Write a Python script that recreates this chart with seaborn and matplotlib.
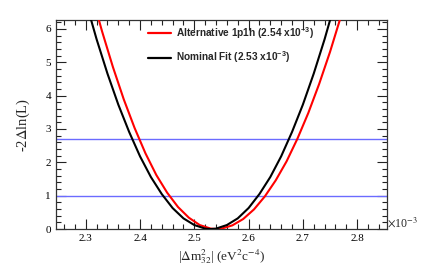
import numpy as np
import pandas as pd
import matplotlib
matplotlib.use("Agg")
import matplotlib.pyplot as plt
from matplotlib.ticker import MultipleLocator
import seaborn as sns

# delta m^2_32 (x 1e-3 eV^2) and -2 delta ln L
nominal_x = [2.30, 2.32, 2.34, 2.36, 2.38, 2.40, 2.42, 2.44, 2.46, 2.48, 2.50, 2.52, 2.53,
             2.54, 2.56, 2.58, 2.60, 2.62, 2.64, 2.66, 2.68, 2.70, 2.72, 2.74, 2.76]
nominal_y = [6.83, 5.69, 4.66, 3.73, 2.91, 2.18, 1.56, 1.05, 0.63, 0.32, 0.12, 0.013, 0.0,
             0.013, 0.12, 0.32, 0.63, 1.05, 1.56, 2.18, 2.91, 3.73, 4.66, 5.69, 6.83]
alt_x = [2.31, 2.33, 2.35, 2.37, 2.39, 2.41, 2.43, 2.45, 2.47, 2.49, 2.51, 2.53, 2.54,
         2.55, 2.57, 2.59, 2.61, 2.63, 2.65, 2.67, 2.69, 2.71, 2.73, 2.75, 2.77]
alt_y = [7.10, 5.93, 4.86, 3.89, 3.03, 2.27, 1.62, 1.09, 0.66, 0.34, 0.12, 0.014, 0.0,
         0.012, 0.11, 0.30, 0.59, 0.98, 1.46, 2.03, 2.71, 3.48, 4.35, 5.31, 6.37]
levels = [1.0, 2.71]

labels = ["Alternative 1p1h (2.54 x10$^{\\mathregular{-3}}$)",
          "Nominal Fit (2.53 x10$^{\\mathregular{-3}}$)"]

df = pd.concat([
    pd.DataFrame({"x": alt_x, "y": alt_y, "fit": labels[0]}),
    pd.DataFrame({"x": nominal_x, "y": nominal_y, "fit": labels[1]}),
])

sns.set_style("ticks")
plt.rcParams["font.family"] = ["Liberation Serif", "DejaVu Serif"]
plt.rcParams["mathtext.fontset"] = "stix"

fig = plt.figure(figsize=(4.3, 2.73), dpi=100)
ax = fig.add_axes([0.130, 0.161, 0.770, 0.766])

for lv in levels:
    ax.axhline(lv, color="#6b6bff", lw=1.0, zorder=1)

sns.lineplot(data=df, x="x", y="y", hue="fit", palette=["#ff0000", "#000000"],
             lw=1.5, sort=False, estimator=None, ax=ax, zorder=3)

ax.set_xlim(2.245, 2.855)
ax.set_ylim(0, 6.27)
ax.xaxis.set_major_locator(MultipleLocator(0.1))
ax.xaxis.set_minor_locator(MultipleLocator(0.02))
ax.yaxis.set_major_locator(MultipleLocator(1))
ax.yaxis.set_minor_locator(MultipleLocator(0.2))
ax.tick_params(which="both", direction="in", top=True, right=True,
               labeltop=False, labelright=False, width=0.8, colors="#222222",
               labelsize=8, labelcolor="black")
ax.tick_params(which="major", length=7)
ax.tick_params(which="minor", length=3.5)
for s in ax.spines.values():
    s.set_linewidth(0.9)
    s.set_color("#333333")

ax.set_xlabel("|$\\Delta$m$^{2}_{32}$| (eV$^{2}$c$^{-4}$)", fontsize=9.5, labelpad=3)
ax.set_ylabel("-2$\\Delta$ln(L)", fontsize=10.5)
ax.yaxis.set_label_coords(-0.072, 0.5)
ax.text(1.0, 0.03, "$\\times$10$^{-3}$", transform=ax.transAxes, fontsize=8.5,
        ha="left", va="center")

leg = ax.legend(loc="upper left", bbox_to_anchor=(0.278, 0.975), frameon=False,
                borderpad=0, borderaxespad=0,
                handlelength=2.3, handletextpad=0.5, labelspacing=0.9,
                prop={"family": "Liberation Sans", "weight": "bold", "size": 7.3})
for h in leg.get_lines():
    h.set_linewidth(1.6)

fig.savefig("out.png", dpi=100)
